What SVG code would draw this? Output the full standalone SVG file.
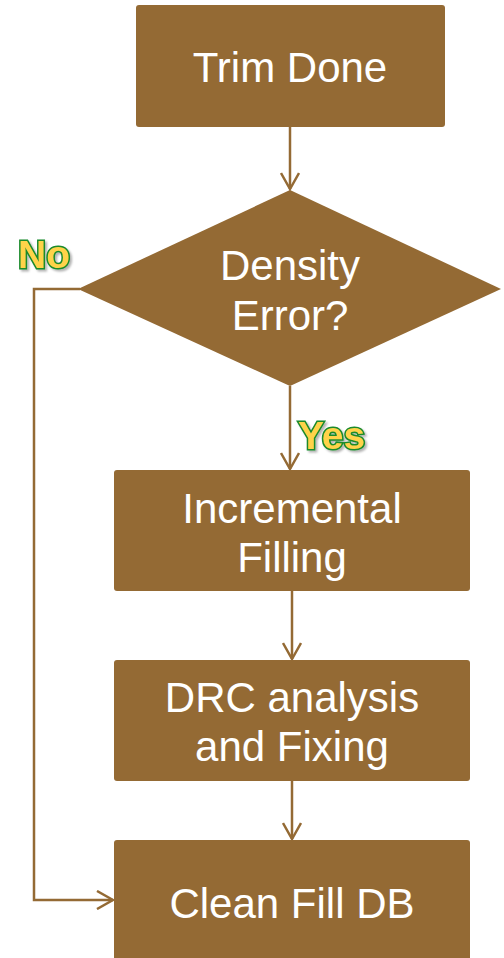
<svg xmlns="http://www.w3.org/2000/svg" width="504" height="958" viewBox="0 0 504 958">
<defs>
<style>
.box{fill:#946A34;}
.t{font-family:"Liberation Sans",Arial,sans-serif;font-size:42px;fill:#ffffff;text-anchor:middle;}
.lbl{font-family:"Liberation Sans",Arial,sans-serif;font-size:39px;font-weight:bold;fill:#FFD34A;stroke:#1A8A2A;stroke-width:3;paint-order:stroke;filter:url(#sh);}
.c{fill:none;stroke:#946A34;stroke-width:2.5;}
</style>
<marker id="ah" viewBox="0 0 20 20" refX="18" refY="10" markerWidth="20" markerHeight="20" markerUnits="userSpaceOnUse" orient="auto">
<path d="M2,1 L18,10 L2,19" fill="none" stroke="#946A34" stroke-width="2.5"/>
</marker>
<filter id="sh" x="-20%" y="-20%" width="150%" height="150%">
<feDropShadow dx="2" dy="2" stdDeviation="1.2" flood-color="#000" flood-opacity="0.3"/>
</filter>
</defs>
<g id="connectors">
<path class="c" d="M290,127 L290,189" marker-end="url(#ah)"/>
<path class="c" d="M290,386 L290,469" marker-end="url(#ah)"/>
<path class="c" d="M292,591 L292,659" marker-end="url(#ah)"/>
<path class="c" d="M292,781 L292,839" marker-end="url(#ah)"/>
<path class="c" d="M80,289 L34,289 L34,900 L113,900" marker-end="url(#ah)"/>
<text class="lbl" x="18" y="268">No</text>
<text class="lbl" x="298" y="449">Yes</text>
</g>
<g id="trim">
<rect class="box" x="136" y="5" width="309" height="122" rx="3"/>
<text class="t" x="290" y="82">Trim Done</text>
</g>
<g id="density">
<polygon class="box" points="290,190 501,289 290,386 78,289"/>
<text class="t" x="290" y="280">Density</text>
<text class="t" x="290" y="330">Error?</text>
</g>
<g id="incremental">
<rect class="box" x="114" y="470" width="356" height="121" rx="3"/>
<text class="t" x="292" y="523">Incremental</text>
<text class="t" x="292" y="572">Filling</text>
</g>
<g id="drc">
<rect class="box" x="114" y="660" width="356" height="121" rx="3"/>
<text class="t" x="292" y="712">DRC analysis</text>
<text class="t" x="292" y="761">and Fixing</text>
</g>
<g id="clean">
<rect class="box" x="114" y="840" width="356" height="130" rx="3"/>
<text class="t" x="292" y="918">Clean Fill DB</text>
</g>
</svg>
